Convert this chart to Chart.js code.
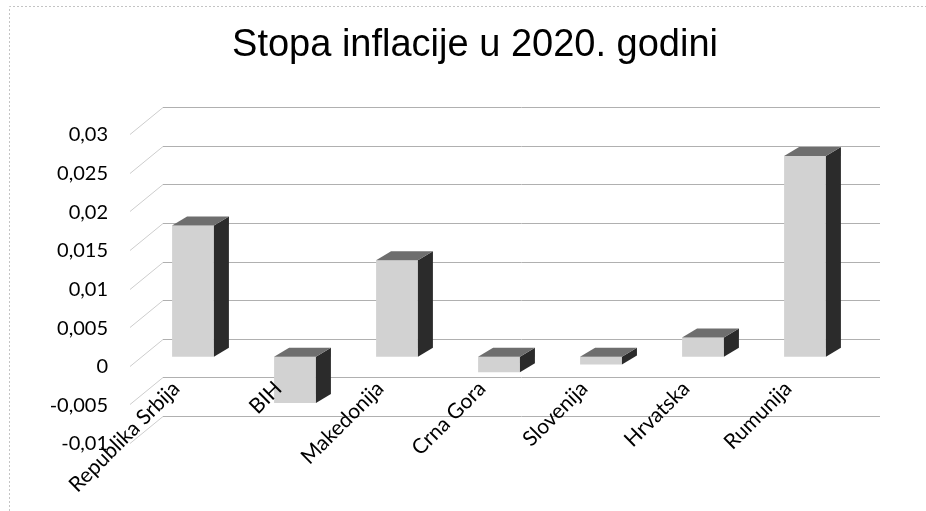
<!DOCTYPE html>
<html>
<head>
<meta charset="utf-8">
<title>Stopa inflacije u 2020. godini</title>
<script src="https://cdn.jsdelivr.net/npm/chart.js@4/dist/chart.umd.min.js"></script>
<style>
  html, body { margin: 0; padding: 0; background: #fff; }
  #chart { display: block; }
</style>
</head>
<body>
<canvas id="chart" width="926" height="511"></canvas>
<script>
const categories = ["Republika Srbija", "BIH", "Makedonija", "Crna Gora", "Slovenija", "Hrvatska", "Rumunija"];
const inflation = [0.017, -0.006, 0.0125, -0.002, -0.001, 0.0025, 0.026];
const yMin = -0.01;
const yMax = 0.03;
const yStep = 0.005;

// depth of the box drawn behind each bar, and of the walls
const barDepth = { dx: 15, dy: -9 };
const wallFront = { x: 130, dy: 9 };
const wallBack = { x: 163, dy: -18, right: 880 };

const formatTick = (v) => {
  const s = String(Number(v.toFixed(3)));
  return s.replace(".", ",");
};

// back wall gridlines + diagonal lines on the left wall
const walls = {
  id: "walls",
  beforeDatasetsDraw(chart) {
    const { ctx } = chart;
    const y = chart.scales.y;
    ctx.save();
    ctx.lineWidth = 1;
    y.ticks.forEach((t) => {
      const py = Math.round(y.getPixelForValue(t.value));
      ctx.strokeStyle = "#cdcdcd";
      ctx.beginPath();
      ctx.moveTo(wallFront.x, py + wallFront.dy + 0.5);
      ctx.lineTo(wallBack.x, py + wallBack.dy + 0.5);
      ctx.stroke();
      ctx.strokeStyle = "#b0b0b0";
      ctx.beginPath();
      ctx.moveTo(wallBack.x, py + wallBack.dy + 0.5);
      ctx.lineTo(wallBack.right, py + wallBack.dy + 0.5);
      ctx.stroke();
    });
    ctx.restore();
  },
};

// top and side faces of the bars
const boxes = {
  id: "boxes",
  afterDatasetsDraw(chart) {
    const { ctx } = chart;
    const meta = chart.getDatasetMeta(0);
    ctx.save();
    meta.data.forEach((bar) => {
      const { x, y, base, width } = bar.getProps(["x", "y", "base", "width"], true);
      const l = x - width / 2;
      const r = x + width / 2;
      const top = Math.min(y, base);
      const bottom = Math.max(y, base);
      const { dx, dy } = barDepth;

      ctx.fillStyle = "#2b2b2b";
      ctx.beginPath();
      ctx.moveTo(r, top);
      ctx.lineTo(r + dx, top + dy);
      ctx.lineTo(r + dx, bottom + dy);
      ctx.lineTo(r, bottom);
      ctx.closePath();
      ctx.fill();

      ctx.fillStyle = "#6e6e6e";
      ctx.beginPath();
      ctx.moveTo(l, top);
      ctx.lineTo(l + dx, top + dy);
      ctx.lineTo(r + dx, top + dy);
      ctx.lineTo(r, top);
      ctx.closePath();
      ctx.fill();
    });
    ctx.restore();
  },
};

// thin dotted frame on the top and left edge
const frame = {
  id: "frame",
  afterDraw(chart) {
    const { ctx, width, height } = chart;
    ctx.save();
    ctx.strokeStyle = "#c4c4c4";
    ctx.setLineDash([2, 2]);
    ctx.beginPath();
    ctx.moveTo(9.5, height);
    ctx.lineTo(9.5, 6.5);
    ctx.lineTo(width, 6.5);
    ctx.stroke();
    ctx.restore();
  },
};

const ctx = document.getElementById("chart");

new Chart(ctx, {
  type: "bar",
  data: {
    labels: categories,
    datasets: [
      {
        label: "Stopa inflacije",
        data: inflation,
        backgroundColor: "#d2d2d2",
        borderWidth: 0,
        categoryPercentage: 1,
        barPercentage: 0.41,
      },
    ],
  },
  options: {
    responsive: false,
    devicePixelRatio: 1,
    animation: false,
    layout: {
      padding: { left: 24, right: 0, top: 0, bottom: 0 },
    },
    plugins: {
      legend: { display: false },
      tooltip: { enabled: false },
      title: {
        display: true,
        text: "Stopa inflacije u 2020. godini",
        color: "#000",
        font: { family: "'Liberation Sans', Arial, sans-serif", size: 38, weight: "normal" },
        padding: { top: 23, bottom: 56.4 },
      },
    },
    scales: {
      x: {
        grid: { display: false, drawTicks: false },
        border: { display: false },
        ticks: {
          color: "#000",
          font: { family: "Lato, sans-serif", size: 21 },
          minRotation: 45,
          maxRotation: 45,
          autoSkip: false,
          // mirrored so the slanted names can rise over the floor
          mirror: true,
          padding: 40,
          labelOffset: 1,
          z: 1,
        },
        afterFit(axis) {
          axis.height = 77;
          axis.paddingLeft = 0;
          axis.paddingRight = 0;
        },
      },
      y: {
        min: yMin,
        max: yMax,
        grid: { display: false, drawTicks: false },
        border: { display: false },
        ticks: {
          stepSize: yStep,
          color: "#000",
          font: { family: "Lato, sans-serif", size: 20 },
          padding: 34,
          labelOffset: 10,
          callback: (v) => formatTick(v),
        },
        afterFit(axis) {
          axis.width = 118;
          axis.paddingTop = 0;
          axis.paddingBottom = 0;
        },
      },
      // empty right-hand band, keeps the plot clear of the right edge
      y2: {
        position: "right",
        grid: { display: false, drawTicks: false },
        border: { display: false },
        ticks: { display: false },
        afterFit(axis) {
          axis.width = 70;
          axis.paddingTop = 0;
          axis.paddingBottom = 0;
        },
      },
    },
  },
  plugins: [walls, boxes, frame],
});
</script>
</body>
</html>
